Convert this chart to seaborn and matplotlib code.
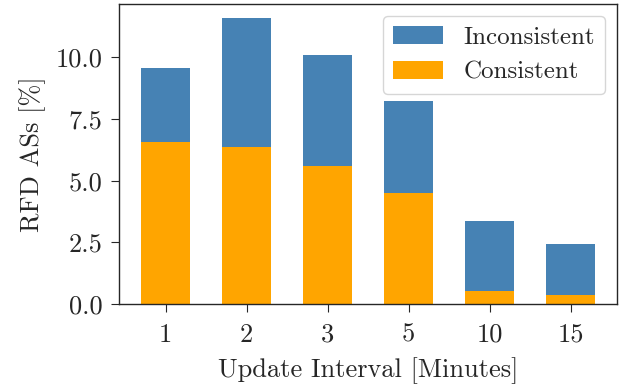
import matplotlib
matplotlib.use("Agg")
import matplotlib.pyplot as plt
import seaborn as sns
import pandas as pd

# values
intervals = ["1", "2", "3", "5", "10", "15"]
consistent = [6.55, 6.35, 5.6, 4.5, 0.55, 0.37]
inconsistent = [3.0, 5.23, 4.5, 3.72, 2.81, 2.06]
totals = [c + i for c, i in zip(consistent, inconsistent)]

df = pd.DataFrame({"interval": intervals, "consistent": consistent, "total": totals})

sns.set_style("ticks")
plt.rcParams["font.family"] = ["serif"]
plt.rcParams["font.serif"] = ["cmr10", "DejaVu Serif"]
plt.rcParams["mathtext.fontset"] = "cm"
plt.rcParams["axes.formatter.use_mathtext"] = True
plt.rcParams["font.size"] = 19

fig, ax = plt.subplots(figsize=(6.32, 3.85), dpi=100)

# stacked: draw total (inconsistent on top) first, consistent over it
sns.barplot(data=df, x="interval", y="total", color="steelblue", saturation=1,
            width=0.6, linewidth=0, label="Inconsistent", ax=ax)
sns.barplot(data=df, x="interval", y="consistent", color="orange", saturation=1,
            width=0.6, linewidth=0, label="Consistent", ax=ax)

ax.set_xlim(-0.58, 5.58)
ax.set_ylim(0, 12.16)
ax.set_yticks([0, 2.5, 5.0, 7.5, 10.0])
ax.set_yticklabels(["0.0", "2.5", "5.0", "7.5", "10.0"])
ax.set_xlabel("Update Interval [Minutes]", fontsize=19, labelpad=8)
ax.set_ylabel("RFD ASs [%]", fontsize=19, labelpad=7.5)
for s in ax.spines.values():
    s.set_visible(True)
    s.set_linewidth(1.0)
ax.tick_params(axis="x", labelsize=19, length=6, pad=7.5)
ax.tick_params(axis="y", labelsize=19, length=6, pad=5.5)
ax.legend(loc="upper right", fontsize=18, handlelength=2.0, labelspacing=0.5)

plt.subplots_adjust(left=0.188, right=0.977, bottom=0.21, top=0.99)
plt.savefig("out.png", dpi=100)
plt.close()
